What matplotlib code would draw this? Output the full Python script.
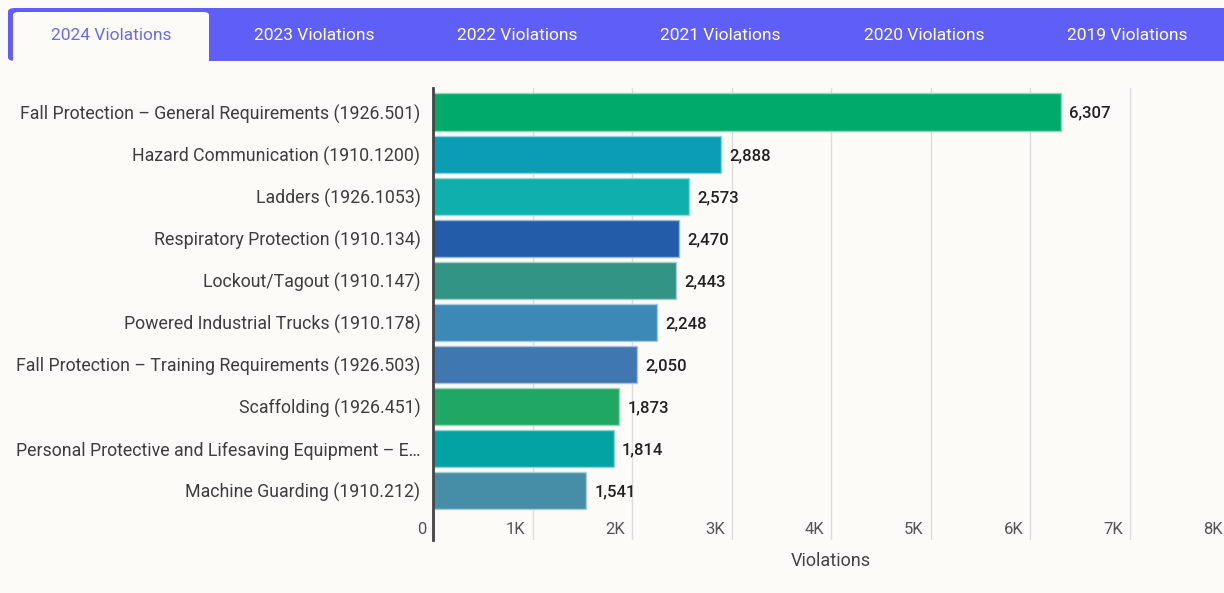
import matplotlib
matplotlib.use("Agg")
import matplotlib.pyplot as plt
from matplotlib.patches import FancyBboxPatch, Rectangle
import matplotlib.transforms as mtransforms

categories = [
    "Fall Protection – General Requirements (1926.501)",
    "Hazard Communication (1910.1200)",
    "Ladders (1926.1053)",
    "Respiratory Protection (1910.134)",
    "Lockout/Tagout (1910.147)",
    "Powered Industrial Trucks (1910.178)",
    "Fall Protection – Training Requirements (1926.503)",
    "Scaffolding (1926.451)",
    "Personal Protective and Lifesaving Equipment – E…",
    "Machine Guarding (1910.212)",
]
violations = [6307, 2888, 2573, 2470, 2443, 2248, 2050, 1873, 1814, 1541]
bar_colors = ["#00AA6A", "#0A9EB6", "#0FAFAD", "#235DAA", "#319485",
              "#3C88B6", "#4177B0", "#20A764", "#03A3A3", "#468EA8"]
tick_values = [0, 1000, 2000, 3000, 4000, 5000, 6000, 7000, 8000]
tick_labels = ["0", "1K", "2K", "3K", "4K", "5K", "6K", "7K", "8K"]
tabs = ["2024 Violations", "2023 Violations", "2022 Violations",
        "2021 Violations", "2020 Violations", "2019 Violations"]

W, H = 1224, 593
BG = "#FCFBF7"
PURPLE = "#5F5FF8"
FONT = ["Roboto", "DejaVu Sans"]

fig = plt.figure(figsize=(W / 100, H / 100), dpi=100, facecolor=BG)

def fx(px):
    return px / W

def fy(py):
    return 1 - py / H

# ---- tab bar ----
fig.add_artist(FancyBboxPatch((fx(8), fy(61)), fx(1240 - 8), fy(8) - fy(61),
                              boxstyle="round,pad=0,rounding_size=0.006",
                              transform=fig.transFigure, facecolor=PURPLE,
                              edgecolor="none", zorder=1))
fig.add_artist(FancyBboxPatch((fx(13), fy(66)), fx(209 - 13), fy(12) - fy(66),
                              boxstyle="round,pad=0,rounding_size=0.005",
                              transform=fig.transFigure, facecolor=BG,
                              edgecolor="none", zorder=2))
fig.add_artist(Rectangle((0, fy(80)), 1, fy(61) - fy(80), transform=fig.transFigure,
                         facecolor=BG, edgecolor="none", zorder=3))
tab_centers = [111, 314, 517, 720, 924, 1127]
for i, (t, cx) in enumerate(zip(tabs, tab_centers)):
    col = "#6A6AF2" if i == 0 else "white"
    fig.text(fx(cx), fy(35), t, ha="center", va="center", fontsize=12.5,
             color=col, family=FONT, zorder=5)

# ---- chart ----
x0, x1 = 433, 1224
y0, y1 = 88, 540
ax = fig.add_axes([fx(x0), fy(y1), fx(x1 - x0), fy(y0) - fy(y1)])
ax.set_facecolor(BG)
px_per_k = (1130 - 433) / 7.0
xmax = (x1 - x0) / px_per_k * 1000
ax.set_xlim(0, xmax)
ax.set_ylim(10.17, -0.57)

pos = list(range(len(categories)))

def lighten(c, f=0.55):
    r, g, b = matplotlib.colors.to_rgb(c)
    return (r + (1 - r) * f, g + (1 - g) * f, b + (1 - b) * f)

for v in tick_values[1:]:
    if v < xmax:
        ax.axvline(v, color="#DCDCDC", lw=1, zorder=0)

ax.barh(pos, violations, height=0.88, color=bar_colors,
        edgecolor=[lighten(c) for c in bar_colors], linewidth=1, zorder=2)

for p, v in zip(pos, violations):
    ax.annotate(f"{v:,}", (v, p), xytext=(6, -1), textcoords="offset points",
                ha="left", va="center", fontsize=12, color="#222222",
                family=FONT, fontweight="medium")

for spine in ["top", "right", "bottom"]:
    ax.spines[spine].set_visible(False)
ax.spines["left"].set_color("#444444")
ax.spines["left"].set_linewidth(2)

ax.set_yticks(pos)
ax.set_yticklabels(categories, fontsize=12.8, color="#3E3E3E", family=FONT)
ax.tick_params(axis="y", length=0, pad=9)
ax.set_xticks([])

trans = mtransforms.blended_transform_factory(ax.transData, ax.transAxes)
for v, lab in zip(tick_values, tick_labels):
    ax.annotate(lab, (v, 0), xycoords=trans, xytext=(-5, 7.5),
                textcoords="offset points", ha="right", va="center",
                fontsize=12, color="#555555", family=FONT, annotation_clip=False)

fig.text(fx(831), fy(561), "Violations", ha="center", va="center",
         fontsize=13, color="#444444", family=FONT)

fig.savefig("out.png", dpi=100, facecolor=BG)
